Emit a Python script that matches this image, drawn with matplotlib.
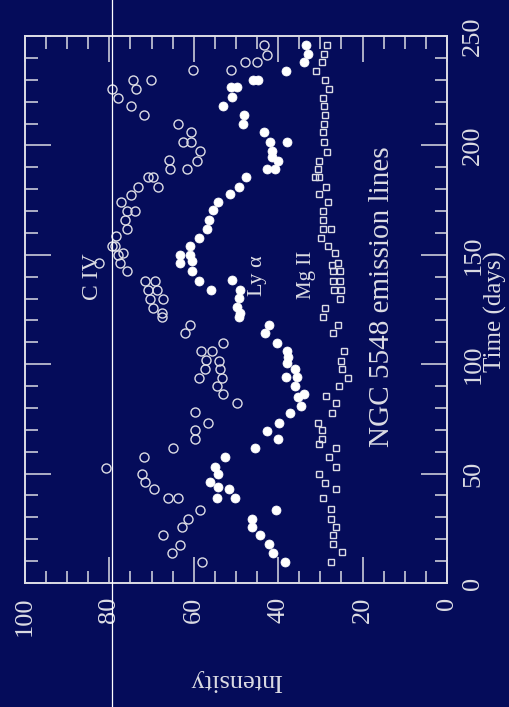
import numpy as np
import matplotlib

matplotlib.use("agg")
import matplotlib.pyplot as plt
from matplotlib.lines import Line2D

# C IV (open circles): time (days), intensity
civ_t = [9.6, 13.6, 17.3, 21.8, 25.8, 29.4, 33.3, 38.9, 38.9, 43.0, 46.1, 49.9,
         52.6, 57.5, 61.8, 65.9, 69.7, 73.2, 78.1, 82.1, 86.2, 90.2, 93.8, 93.8,
         98.0, 98.0, 101.9, 101.5, 106.0, 106.0, 109.5, 114.1, 118.0, 121.7,
         123.4, 125.7, 129.8, 129.8, 134.0, 134.0, 138.0, 138.0, 142.5, 146.3,
         146.3, 150.1, 150.9, 154.0, 154.0, 158.5, 161.6, 165.8, 170.0, 170.0,
         174.0, 177.4, 180.8, 180.8, 185.4, 185.4, 189.0, 189.0, 193.3, 193.0,
         197.3, 201.4, 201.4, 206.0, 210.0, 213.7, 217.8, 221.7, 226.0, 226.0,
         229.7, 230.0, 234.6, 234.6, 238.0, 238.0, 241.5, 246.0]
civ_i = [58.0, 65.2, 63.3, 67.2, 62.9, 61.4, 58.5, 66.0, 63.7, 69.4, 71.6, 72.2,
         80.8, 71.8, 65.0, 59.6, 59.6, 56.6, 59.6, 49.8, 53.0, 54.6, 58.7, 53.4,
         57.3, 53.8, 57.0, 54.0, 58.3, 55.8, 53.0, 62.2, 60.9, 67.6,
         67.6, 69.6, 70.4, 67.2, 70.8, 68.8, 71.6, 69.2, 75.9, 77.5,
         82.5, 77.9, 76.7, 79.4, 78.7, 78.5, 75.9, 76.2, 75.9, 73.9,
         77.3, 74.9, 73.3, 68.6, 70.8, 69.6, 65.6, 61.7, 65.9, 59.3,
         58.5, 62.5, 60.7, 60.7, 63.7, 71.8, 74.9, 77.9, 79.5, 73.7,
         70.2, 74.5, 60.1, 51.2, 47.9, 45.1, 42.7, 43.4]

# Ly alpha (filled circles)
lya_t = [9.6, 13.9, 17.7, 21.8, 25.8, 29.4, 33.3, 38.9, 38.9, 43.0, 43.8, 46.1,
         49.9, 53.2, 57.5, 61.8, 65.9, 69.4, 73.2, 77.7, 81.1, 85.1, 86.2, 90.2,
         94.3, 94.3, 98.0, 100.4, 103.4, 106.0, 109.5, 114.1, 118.0, 121.7,
         123.4, 126.2, 130.3, 134.0, 138.7, 134.0, 138.0, 142.5, 146.3, 147.0,
         150.0, 150.0, 153.9, 157.8, 161.6, 165.8, 170.4, 174.0, 177.7, 180.8,
         185.4, 189.0, 189.0, 193.0, 194.5, 197.6, 201.4, 201.4, 206.0, 210.0,
         214.0, 217.8, 222.0, 226.7, 226.7, 230.0, 230.0, 234.0, 238.0, 242.0,
         245.8]
lya_i = [38.4, 41.3, 42.1, 44.3, 46.3, 46.3, 40.5, 54.6, 50.2, 51.7, 54.2, 56.2,
         54.2, 55.0, 52.6, 45.5, 40.0, 42.7, 39.7, 37.2, 34.7, 35.2, 34.0, 36.0,
         38.2, 35.6, 36.0, 38.0, 37.6, 38.0, 40.4, 43.1, 42.1, 49.4,
         49.1, 49.8, 49.4, 49.1, 51.0, 55.9, 58.8, 60.5, 63.3, 60.5,
         63.3, 60.9, 60.9, 58.8, 56.9, 56.4, 55.4, 54.2, 51.4, 49.3,
         47.7, 42.7, 40.8, 40.0, 41.5, 41.5, 41.9, 37.8, 43.3, 48.3,
         48.0, 53.0, 51.0, 51.2, 49.8, 45.9, 44.7, 38.2, 33.8, 32.9,
         33.5]

# Mg II (open squares)
mg_t = [9.6, 14.2, 18.0, 21.8, 25.8, 29.4, 34.0, 38.9, 43.0, 45.8, 49.6, 53.0,
        57.5, 61.8, 63.3, 65.9, 69.7, 73.2, 77.7, 82.1, 85.6, 90.2, 93.8, 97.8,
        101.5, 106.0, 114.1, 118.0, 121.7, 125.7, 129.8, 133.8, 133.8, 138.0,
        138.0, 142.5, 142.5, 145.5, 146.3, 150.9, 153.9, 157.8, 161.6, 161.6,
        165.8, 169.8, 174.0, 177.7, 180.8, 185.4, 185.4, 189.0, 193.0, 196.8,
        201.4, 206.0, 210.0, 213.7, 217.8, 221.7, 226.0, 230.0, 234.0, 238.0,
        242.0, 245.8]
mg_i = [27.5, 24.8, 26.9, 26.9, 26.4, 27.5, 27.5, 29.3, 26.4, 28.9, 30.3, 26.3,
        27.9, 26.3, 30.3, 29.7, 29.7, 30.6, 27.2, 26.4, 28.7, 25.6, 23.5, 24.8,
        25.1, 24.3, 26.9, 25.9, 29.3, 28.9, 25.4, 26.7, 25.0, 27.1,
        25.4, 27.1, 25.4, 27.3, 25.8, 26.5, 28.3, 29.9, 29.5, 27.5,
        29.3, 29.5, 28.1, 30.3, 28.7, 31.3, 30.3, 30.6, 30.3, 28.5,
        29.1, 29.3, 29.1, 28.9, 29.1, 29.5, 27.9, 28.9, 31.0, 29.7,
        29.1, 28.4]

bg = "#050c5a"
fg = "#dcdce4"
serif = ["Liberation Serif", "DejaVu Serif"]
plt.rcParams["font.family"] = serif

fig = plt.figure(figsize=(5.1, 7.07), dpi=100, facecolor=bg)
ax = fig.add_axes([25 / 510, 1 - 583 / 707, 422 / 510, 547 / 707])
ax.set_facecolor(bg)

# plot is drawn turned on its side: intensity runs right to left, time upward
ax.plot(civ_i, civ_t, "o", ms=6.5, mfc="none", mec=fg, mew=1.0)
ax.plot(lya_i, lya_t, "o", ms=6.5, mfc="white", mec="white", mew=0.5)
ax.plot(mg_i, mg_t, "s", ms=4.2, mfc="none", mec=fg, mew=1.0)

ax.set_xlim(100, 0)
ax.set_ylim(0, 250)
ax.set_xticks(np.arange(0, 101, 20))
ax.set_xticks(np.arange(0, 101, 5), minor=True)
ax.set_yticks(np.arange(0, 251, 50))
ax.set_yticks(np.arange(0, 251, 10), minor=True)

ax.tick_params(which="both", direction="in", top=True, bottom=True,
               left=True, right=True, colors=fg, width=1.1)
ax.tick_params(which="major", length=19)
ax.tick_params(which="minor", length=9)
ax.tick_params(axis="x", labelsize=19, pad=10, labelrotation=90)
ax.tick_params(axis="y", labelleft=False, labelright=True, labelsize=19,
               pad=11, labelrotation=90)
for lab in ax.get_yticklabels():
    lab.set_va("center")
for s in ax.spines.values():
    s.set_color(fg)
    s.set_linewidth(1.4)

ax.text(0.5, -0.177, "Intensity", transform=ax.transAxes, rotation=180,
        ha="center", va="center", fontsize=19, color=fg)
ax.text(1.116, 0.497, "Time (days)", transform=ax.transAxes, rotation=90,
        ha="center", va="center", fontsize=18, color=fg)
ax.text(15.4, 131, "NGC 5548 emission lines", rotation=90, ha="center",
        va="center", fontsize=21, color=fg)
ax.text(84.1, 140, "C IV", rotation=90, ha="center", va="center",
        fontsize=17, color=fg)
ax.text(45.0, 140.5, "Ly \u03b1", rotation=90, ha="center", va="center",
        fontsize=16, color=fg)
ax.text(33.4, 141, "Mg II", rotation=90, ha="center", va="center",
        fontsize=15, color=fg)

# thin white line crossing the whole picture
fig.add_artist(Line2D([112.5 / 510] * 2, [0, 1], transform=fig.transFigure,
                      color="white", lw=0.9))

fig.savefig("out.png", dpi=100, facecolor=bg)
